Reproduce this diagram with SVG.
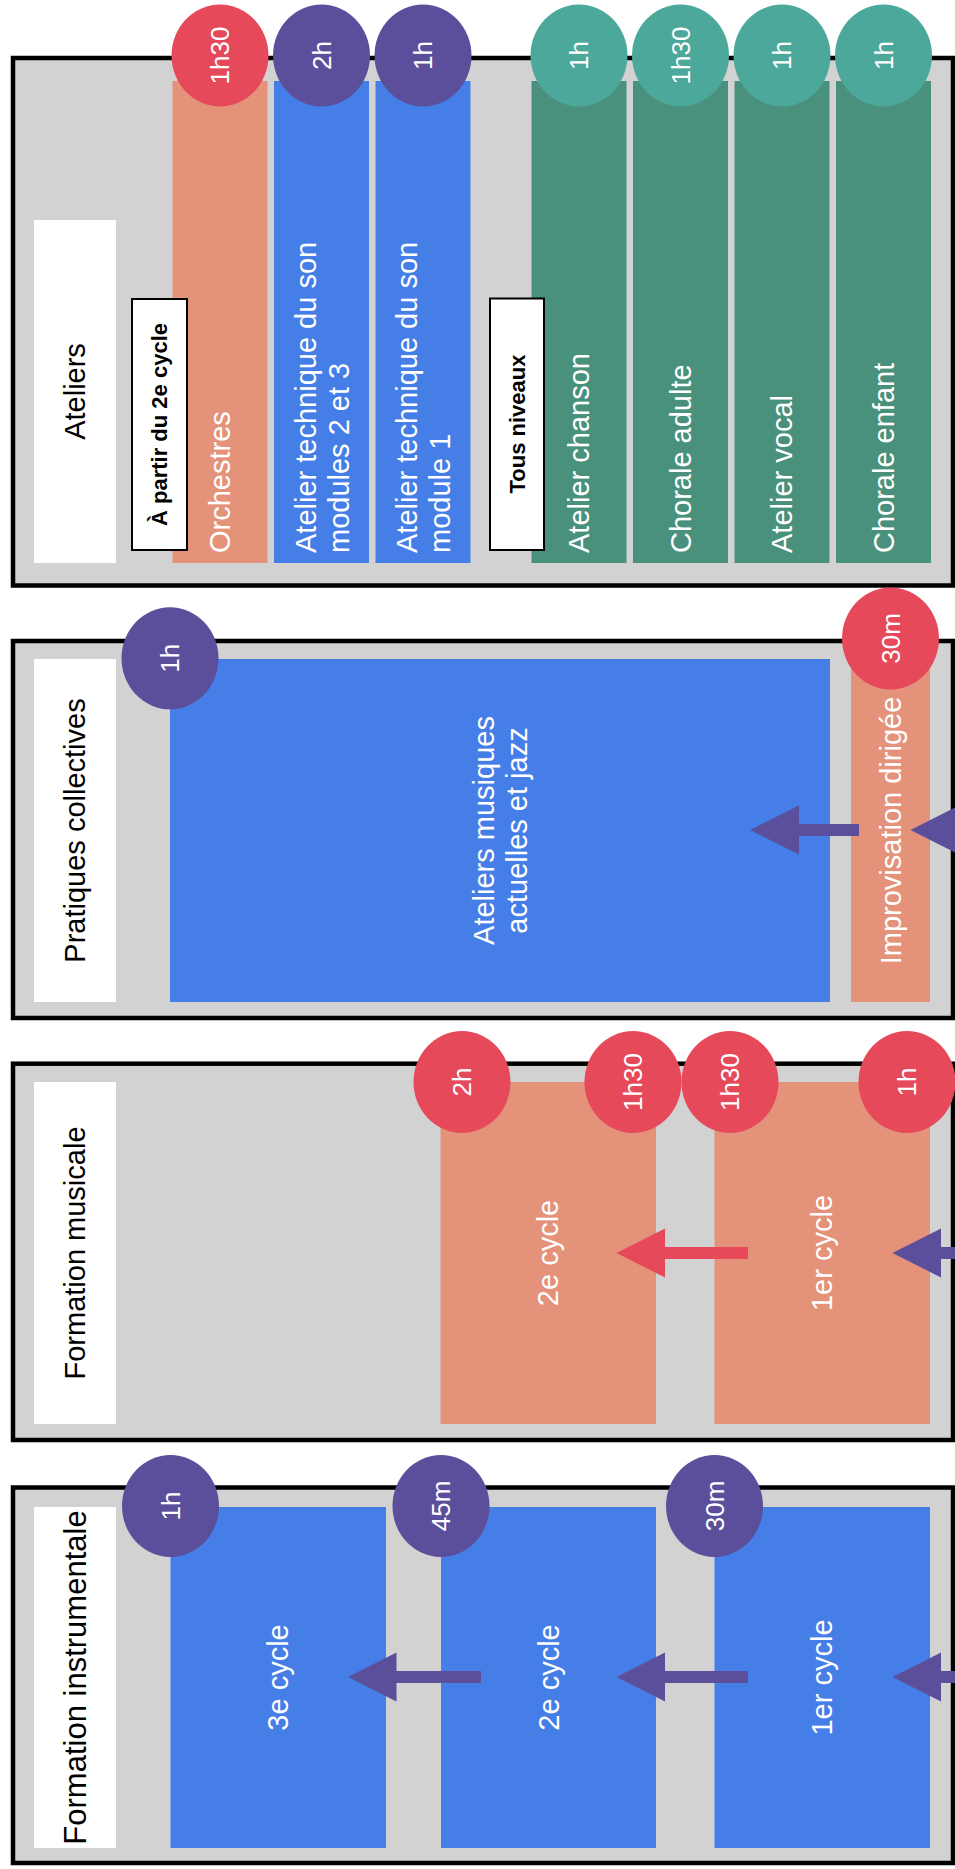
<svg xmlns="http://www.w3.org/2000/svg" width="955" height="1869" viewBox="0 0 955 1869">
<style>
text{font-family:"Liberation Sans",Arial,Helvetica,sans-serif}
.panel{fill:#d2d2d2;stroke:#000;stroke-width:4.5}
.title{fill:#fff}
.tt{font-size:29px;fill:#000;text-anchor:middle}
.sal{fill:#e4927a}
.blue{fill:#467ee8}
.green{fill:#4a917d}
.red{fill:#e5495a}
.pur{fill:#5b4e9b}
.teal{fill:#4ba89a}
.bt{font-size:29px;fill:#fff}
.bc{font-size:29px;fill:#fff;text-anchor:middle}
.ct{font-size:26px;fill:#fff;text-anchor:middle}
.lab{fill:#fff;stroke:#000;stroke-width:2}
.lt{font-size:22px;font-weight:bold;fill:#000;text-anchor:middle}
.arp{fill:#5b4e9b}
.arr{fill:#e5495a}
</style>
<rect width="955" height="1869" fill="#fff"/>

<!-- Ateliers -->
<g id="ateliers">
<rect class="panel" x="13" y="58" width="940" height="527.5"/>
<rect class="title" x="34" y="220" width="82" height="343"/>
<text class="tt" transform="translate(75,391.5) rotate(-90)" dy="0.35em">Ateliers</text>
</g>
<g id="orchestres">
<rect class="sal" x="172.5" y="81" width="95" height="482"/>
<text class="bt" transform="translate(220,553) rotate(-90)" dy="0.35em">Orchestres</text>
<ellipse class="red" cx="220" cy="55.5" rx="48.5" ry="51"/>
<text class="ct" transform="translate(220,55.5) rotate(-90)" dy="0.35em">1h30</text>
</g>
<g id="tech23">
<rect class="blue" x="274" y="81" width="95" height="482"/>
<text class="bt" transform="translate(321.5,553) rotate(-90)"><tspan x="0" y="-6">Atelier technique du son</tspan><tspan x="0" y="27">modules 2 et 3</tspan></text>
<ellipse class="pur" cx="321.5" cy="55.5" rx="48.5" ry="51"/>
<text class="ct" transform="translate(321.5,55.5) rotate(-90)" dy="0.35em">2h</text>
</g>
<g id="tech1">
<rect class="blue" x="375.5" y="81" width="95" height="482"/>
<text class="bt" transform="translate(423,553) rotate(-90)"><tspan x="0" y="-6">Atelier technique du son</tspan><tspan x="0" y="27">module 1</tspan></text>
<ellipse class="pur" cx="423" cy="55.5" rx="48.5" ry="51"/>
<text class="ct" transform="translate(423,55.5) rotate(-90)" dy="0.35em">1h</text>
</g>
<g id="chanson">
<rect class="green" x="531.5" y="81" width="95" height="482"/>
<text class="bt" transform="translate(579,553) rotate(-90)" dy="0.35em">Atelier chanson</text>
<ellipse class="teal" cx="579" cy="55.5" rx="48.5" ry="51"/>
<text class="ct" transform="translate(579,55.5) rotate(-90)" dy="0.35em">1h</text>
</g>
<g id="chorale-adulte">
<rect class="green" x="633" y="81" width="95" height="482"/>
<text class="bt" transform="translate(680.5,553) rotate(-90)" dy="0.35em">Chorale adulte</text>
<ellipse class="teal" cx="680.5" cy="55.5" rx="48.5" ry="51"/>
<text class="ct" transform="translate(680.5,55.5) rotate(-90)" dy="0.35em">1h30</text>
</g>
<g id="vocal">
<rect class="green" x="734.5" y="81" width="95" height="482"/>
<text class="bt" transform="translate(782,553) rotate(-90)" dy="0.35em">Atelier vocal</text>
<ellipse class="teal" cx="782" cy="55.5" rx="48.5" ry="51"/>
<text class="ct" transform="translate(782,55.5) rotate(-90)" dy="0.35em">1h</text>
</g>
<g id="chorale-enfant">
<rect class="green" x="836" y="81" width="95" height="482"/>
<text class="bt" transform="translate(883.5,553) rotate(-90)" dy="0.35em">Chorale enfant</text>
<ellipse class="teal" cx="883.5" cy="55.5" rx="48.5" ry="51"/>
<text class="ct" transform="translate(883.5,55.5) rotate(-90)" dy="0.35em">1h</text>
</g>
<g id="label-2e">
<rect class="lab" x="132" y="299" width="55" height="251"/>
<text class="lt" transform="translate(159.5,424.5) rotate(-90)" dy="0.35em">À partir du 2e cycle</text>
</g>
<g id="label-tous">
<rect class="lab" x="490" y="298.5" width="54" height="251.5"/>
<text class="lt" transform="translate(517,424) rotate(-90)" dy="0.35em">Tous niveaux</text>
</g>

<!-- Pratiques collectives -->
<g id="pratiques">
<rect class="panel" x="13" y="641" width="940" height="377"/>
<rect class="title" x="34" y="659" width="82" height="343"/>
<text class="tt" transform="translate(75,830.5) rotate(-90)" dy="0.35em">Pratiques collectives</text>
</g>
<g id="amj">
<rect class="blue" x="170" y="659" width="660" height="343"/>
<text class="bc" transform="translate(500,830.5) rotate(-90)"><tspan x="0" y="-6">Ateliers musiques</tspan><tspan x="0" y="27">actuelles et jazz</tspan></text>
<ellipse class="pur" cx="170" cy="658.3" rx="48.5" ry="51"/>
<text class="ct" transform="translate(170,658.3) rotate(-90)" dy="0.35em">1h</text>
</g>
<g id="impro">
<rect class="sal" x="851" y="659" width="79" height="343"/>
<text class="bc" transform="translate(890.5,830.5) rotate(-90)" dy="0.35em">Improvisation dirigée</text>
<ellipse class="red" cx="890.5" cy="638.5" rx="48.5" ry="51"/>
<text class="ct" transform="translate(890.5,638.5) rotate(-90)" dy="0.35em">30m</text>
</g>

<!-- Formation musicale -->
<g id="fm">
<rect class="panel" x="13" y="1063.7" width="940" height="376.3"/>
<rect class="title" x="34" y="1082" width="82" height="342"/>
<text class="tt" transform="translate(75,1253) rotate(-90)" dy="0.35em">Formation musicale</text>
</g>
<g id="fm2">
<rect class="sal" x="440.5" y="1082" width="215.5" height="342"/>
<text class="bc" transform="translate(548,1253) rotate(-90)" dy="0.35em">2e cycle</text>
<ellipse class="red" cx="462" cy="1082" rx="48.5" ry="51"/>
<text class="ct" transform="translate(462,1082) rotate(-90)" dy="0.35em">2h</text>
<ellipse class="red" cx="633" cy="1082" rx="48.5" ry="51"/>
<text class="ct" transform="translate(633,1082) rotate(-90)" dy="0.35em">1h30</text>
</g>
<g id="fm1">
<rect class="sal" x="714.5" y="1082" width="215.5" height="342"/>
<text class="bc" transform="translate(822,1253) rotate(-90)" dy="0.35em">1er cycle</text>
<ellipse class="red" cx="730" cy="1082" rx="48.5" ry="51"/>
<text class="ct" transform="translate(730,1082) rotate(-90)" dy="0.35em">1h30</text>
<ellipse class="red" cx="907" cy="1082" rx="48.5" ry="51"/>
<text class="ct" transform="translate(907,1082) rotate(-90)" dy="0.35em">1h</text>
</g>

<!-- Formation instrumentale -->
<g id="fi">
<rect class="panel" x="13" y="1487.5" width="940" height="375.5"/>
<rect class="title" x="34" y="1507" width="82" height="341"/>
<text class="tt" transform="translate(75,1677.5) rotate(-90)" dy="0.35em" style="font-size:31px">Formation instrumentale</text>
</g>
<g id="fi3">
<rect class="blue" x="170.5" y="1507" width="215.5" height="341"/>
<text class="bc" transform="translate(278,1677.5) rotate(-90)" dy="0.35em">3e cycle</text>
<ellipse class="pur" cx="170.5" cy="1506" rx="48.5" ry="51"/>
<text class="ct" transform="translate(170.5,1506) rotate(-90)" dy="0.35em">1h</text>
</g>
<g id="fi2">
<rect class="blue" x="441" y="1507" width="215" height="341"/>
<text class="bc" transform="translate(548.5,1677.5) rotate(-90)" dy="0.35em">2e cycle</text>
<ellipse class="pur" cx="441" cy="1506" rx="48.5" ry="51"/>
<text class="ct" transform="translate(441,1506) rotate(-90)" dy="0.35em">45m</text>
</g>
<g id="fi1">
<rect class="blue" x="714.5" y="1507" width="215.5" height="341"/>
<text class="bc" transform="translate(822,1677.5) rotate(-90)" dy="0.35em">1er cycle</text>
<ellipse class="pur" cx="714.5" cy="1506" rx="48.5" ry="51"/>
<text class="ct" transform="translate(714.5,1506) rotate(-90)" dy="0.35em">30m</text>
</g>

<!-- Connectors -->
<g id="connectors">
<path class="arp" d="M750,830 L799,805.5 L799,824 L859,824 L859,836 L799,836 L799,854.5 Z"/>
<path class="arp" d="M910.5,830 L959,805.5 L959,824 L1030,824 L1030,836 L959,836 L959,854.5 Z"/>
<path class="arr" d="M616.5,1253 L665,1228.5 L665,1247 L748,1247 L748,1259 L665,1259 L665,1277.5 Z"/>
<path class="arp" d="M892.5,1253 L941,1228.5 L941,1247 L1030,1247 L1030,1259 L941,1259 L941,1277.5 Z"/>
<path class="arp" d="M348,1677 L396.5,1652.5 L396.5,1671 L481,1671 L481,1683 L396.5,1683 L396.5,1701.5 Z"/>
<path class="arp" d="M616.5,1677 L665,1652.5 L665,1671 L748,1671 L748,1683 L665,1683 L665,1701.5 Z"/>
<path class="arp" d="M892.5,1677 L941,1652.5 L941,1671 L1030,1671 L1030,1683 L941,1683 L941,1701.5 Z"/>
</g>
</svg>
